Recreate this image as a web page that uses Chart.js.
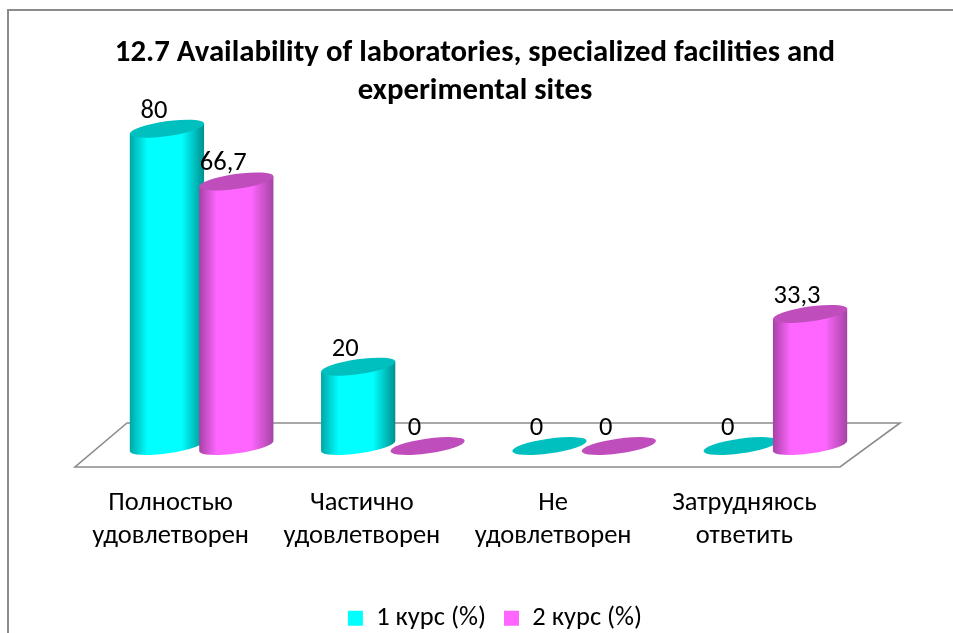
<!DOCTYPE html>
<html><head><meta charset="utf-8">
<style>
html,body{margin:0;padding:0;background:#fff;overflow:hidden}
#frame{position:absolute;left:7px;top:9px;width:1000px;height:700px;border:2px solid #8c8c8c;box-sizing:border-box}
#wrap{position:absolute;left:0;top:0;width:953px;height:633px}
</style>
<script src="https://cdn.jsdelivr.net/npm/chart.js@4/dist/chart.umd.min.js"></script>
</head><body>
<div id="frame"></div>
<div id="wrap"><canvas id="c" width="953" height="633"></canvas></div>
<script>
const titleLines = ["12.7 Availability of laboratories, specialized facilities and", "experimental sites"];
const categories = [["Полностью","удовлетворен"],["Частично","удовлетворен"],["Не","удовлетворен"],["Затрудняюсь","ответить"]];
const course1 = [80, 20, 0, 0];
const course2 = [66.7, 0, 0, 33.3];
const seriesNames = ["1 курс (%)", "2 курс (%)"];
const seriesColors = ["#00FFFF", "#FF66FF"];
const edgeLeft = ["#00A6A6", "#A642A6"];
const edgeRight = ["#009090", "#A444A4"];
const topColors = ["#00BFBF", "#BF4DBC"];
const FONT = "Carlito, Lato, 'Open Sans', 'Noto Sans', sans-serif";
const TEXT_SIZE = 26.5;

const DX = 31, DY = -21, TILT = -8 * Math.PI / 180, RX = 37.5, RY = 7.4;

function tip(cx, cy, sign) {
  return [cx + sign * RX * Math.cos(TILT), cy + sign * RX * Math.sin(TILT)];
}
function drawCylinder(ctx, el, i) {
  const cx = el.x + DX, topY = el.y + DY, botY = el.base + DY;
  if (Math.abs(botY - topY) > 0.5) {
    const [lx, lyT] = tip(cx, topY, -1), [rx, ryT] = tip(cx, topY, 1);
    const g = ctx.createLinearGradient(lx, 0, rx, 0);
    g.addColorStop(0, edgeLeft[i]);
    g.addColorStop(0.24, seriesColors[i]);
    g.addColorStop(0.7, seriesColors[i]);
    g.addColorStop(1, edgeRight[i]);
    ctx.beginPath();
    ctx.moveTo(lx, lyT);
    ctx.ellipse(cx, botY, RX, RY, TILT, Math.PI, 0, true);
    ctx.lineTo(rx, ryT);
    ctx.closePath();
    ctx.fillStyle = g;
    ctx.fill();
  }
  ctx.beginPath();
  ctx.ellipse(cx, topY, RX, RY, TILT, 0, Math.PI * 2);
  ctx.fillStyle = topColors[i];
  ctx.fill();
}

const cylinderPlugin = {
  id: "cylinders",
  afterLayout(chart) {
    const t = chart.titleBlock, l = chart.legend;
    t.left += 17.5; t.right += 17.5; t.top += 9; t.bottom += 9;
    l.left += 37.5; l.right += 37.5; l.top += 8.5; l.bottom += 8.5;
  },
  beforeDatasetsDraw(chart) {
    const ctx = chart.ctx, a = chart.chartArea;
    ctx.save();
    ctx.beginPath();
    ctx.moveTo(a.left, a.bottom);
    ctx.lineTo(a.right, a.bottom);
    ctx.lineTo(a.right + 60, a.bottom + 2 * DY - 2);
    ctx.lineTo(a.left + 52, a.bottom + 2 * DY - 2);
    ctx.closePath();
    ctx.strokeStyle = "#8c8c8c";
    ctx.lineWidth = 1.6;
    ctx.stroke();
    const n = chart.data.labels.length;
    for (let k = 0; k < n; k++) {
      chart.data.datasets.forEach((d, i) => drawCylinder(ctx, chart.getDatasetMeta(i).data[k], i));
    }
    ctx.restore();
  },
  beforeDatasetDraw() { return false; },
  afterDatasetsDraw(chart) {
    const ctx = chart.ctx;
    ctx.save();
    ctx.font = TEXT_SIZE + "px " + FONT;
    ctx.fillStyle = "#000";
    ctx.textAlign = "center";
    ctx.textBaseline = "alphabetic";
    chart.data.datasets.forEach((d, i) => {
      chart.getDatasetMeta(i).data.forEach((el, k) => {
        const txt = String(d.data[k]).replace(".", ",");
        ctx.fillText(txt, el.x + DX - 13, el.y + DY - 11);
      });
    });
    ctx.restore();
  }
};

new Chart(document.getElementById("c"), {
  type: "bar",
  data: {
    labels: categories,
    datasets: [
      { label: seriesNames[0], data: course1, backgroundColor: seriesColors[0] },
      { label: seriesNames[1], data: course2, backgroundColor: seriesColors[1] }
    ]
  },
  plugins: [cylinderPlugin],
  options: {
    responsive: false,
    animation: false,
    layout: { padding: { left: 75, right: 113, top: 26, bottom: 0 } },
    datasets: { bar: { barPercentage: 1, categoryPercentage: 0.7256 } },
    scales: {
      x: { grid: { display: false }, border: { display: false },
           afterFit(s) { s.height = 111.5; },
           ticks: { font: { family: FONT, size: TEXT_SIZE, lineHeight: 1.245 }, color: "#000", maxRotation: 0, autoSkip: false, padding: 12 } },
      y: { display: false, min: 0, max: 90 }
    },
    plugins: {
      title: { display: true, text: titleLines, color: "#000", font: { family: FONT, size: 30.8, weight: "bold", lineHeight: 1.22 }, padding: { top: 0, bottom: 8.85 } },
      legend: { position: "bottom", labels: { color: "#000", font: { family: FONT, size: TEXT_SIZE }, boxWidth: 15, boxHeight: 15, padding: 18 } },
      tooltip: { enabled: false }
    }
  }
});
</script>
</body></html>
